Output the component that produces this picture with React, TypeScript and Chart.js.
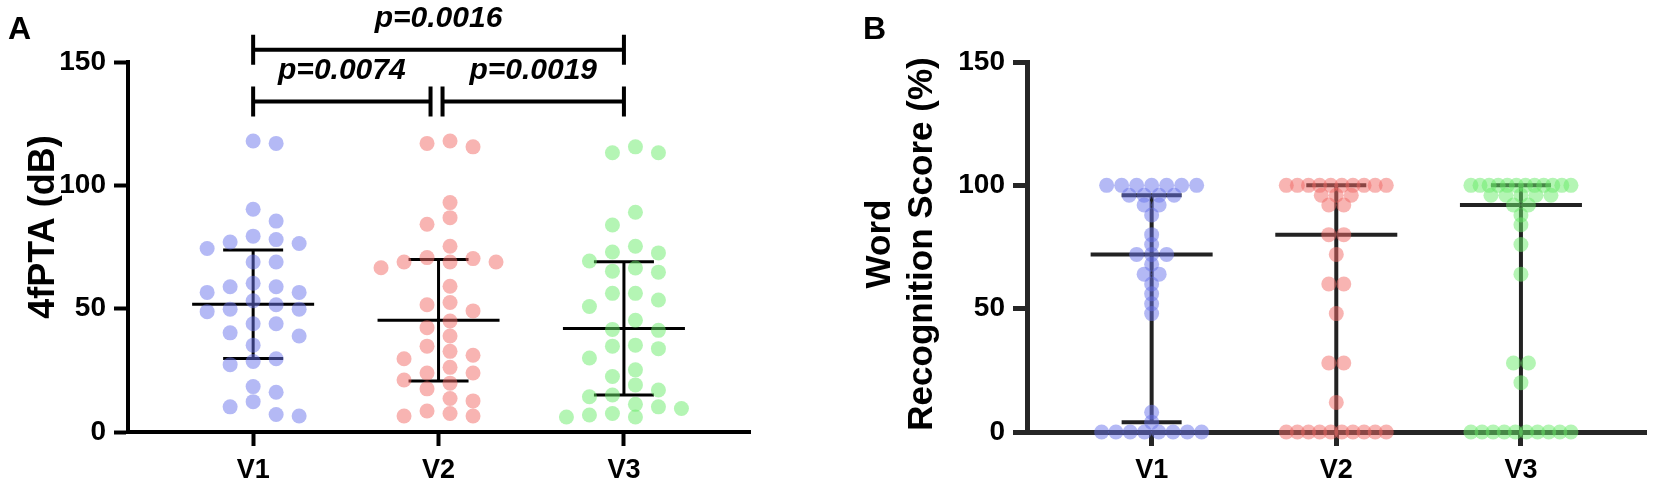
import React, { useEffect, useRef } from 'react';
import { Chart, registerables } from 'chart.js';

Chart.register(...registerables);
Chart.defaults.font.family = '"Liberation Sans", Arial, sans-serif';

// ---- data ----
const categories = ['V1', 'V2', 'V3'];
const yTicks = [0, 50, 100, 150];

// Panel A: 4fPTA (dB)
const ptaV1 = [118, 117, 90.3, 85.5, 79.4, 78, 77, 76.4, 74.4, 68.9, 68.9, 60.3, 58.9, 58.9, 56.6, 56.6, 53.2, 51.6, 49.8, 49.8, 48.8, 43.9, 43.9, 40.2, 38.9, 35.2, 29.7, 28.6, 27.3, 18.4, 16.1, 12.3, 10.2, 7.1, 6.5];
const ptaV2 = [118, 117, 115.6, 93, 86.9, 84.2, 75.3, 70.7, 70.3, 68.9, 68.9, 68.9, 66.6, 59.1, 52.5, 51.6, 49.1, 45, 42.3, 38.9, 34.8, 32.7, 31.1, 29.7, 26.2, 23.9, 23.9, 21.1, 19.8, 17.5, 13.6, 12.6, 8.5, 7.5, 6.5, 6.5];
const ptaV3 = [115.6, 113.2, 113.2, 89.1, 83.9, 75.3, 73.0, 72.6, 69.3, 66.5, 65.2, 64.8, 56.2, 56.2, 53.5, 50.9, 45.3, 41.6, 41.2, 35.2, 34.8, 33.8, 30.0, 25.2, 22.5, 19.1, 17.0, 15.0, 14.3, 11.2, 10.2, 9.5, 7.5, 6.9, 6.1, 6.1];
const ptaMean = [51.8, 45.3, 42.0];
const ptaSD = [22.0, 24.6, 27.0];

// significance brackets (category numbers are 1-based)
const bracketFrom = [1, 2, 1];
const bracketTo = [2, 3, 3];
const bracketLevel = [134, 134, 155];
const bracketText = ['p=0.0074', 'p=0.0019', 'p=0.0016'];

// Panel B: Word Recognition Score (%)
const wrsV1 = [0, 0, 0, 0, 0, 0, 0, 0, 4, 8, 48, 52, 56, 60, 64, 64, 68, 72, 72, 72, 76, 80, 88, 92, 92, 96, 96, 96, 96, 100, 100, 100, 100, 100, 100, 100];
const wrsV2 = [0, 0, 0, 0, 0, 0, 0, 0, 0, 0, 12, 28, 28, 48, 60, 60, 72, 80, 80, 92, 92, 96, 96, 96, 100, 100, 100, 100, 100, 100, 100, 100, 100, 100];
const wrsV3 = [0, 0, 0, 0, 0, 0, 0, 0, 0, 0, 20, 28, 28, 64, 76, 84, 88, 92, 92, 96, 96, 96, 96, 96, 100, 100, 100, 100, 100, 100, 100, 100, 100, 100, 100, 100];
const wrsMedian = [72, 80, 92];
const wrsQ1 = [4, 0, 0];
const wrsQ3 = [96, 100, 100];

const dotColors = ['rgba(105,115,235,0.5)', 'rgba(241,105,101,0.5)', 'rgba(105,235,105,0.5)'];

type Bars = { center: number[]; low: number[]; high: number[]; color: string; width: number };

const errorBarPlugin = {
  id: 'errorBars',
  beforeDatasetsDraw(chart: any, _args: any, opts: Bars) {
    if (!opts || !opts.center) return;
    const { ctx } = chart;
    const xs = chart.scales.x;
    const ys = chart.scales.y;
    ctx.save();
    ctx.strokeStyle = opts.color;
    ctx.lineWidth = opts.width;
    ctx.lineCap = 'butt';
    opts.center.forEach((c, i) => {
      const x = xs.getPixelForValue(i + 1);
      const yc = ys.getPixelForValue(c);
      const yl = ys.getPixelForValue(opts.low[i]);
      const yh = ys.getPixelForValue(opts.high[i]);
      ctx.beginPath();
      ctx.moveTo(x - 61, yc); ctx.lineTo(x + 61, yc);
      ctx.moveTo(x, yh); ctx.lineTo(x, yl);
      ctx.moveTo(x - 30, yh); ctx.lineTo(x + 30, yh);
      ctx.moveTo(x - 30, yl); ctx.lineTo(x + 30, yl);
      ctx.stroke();
    });
    ctx.restore();
  },
};

const bracketPlugin = {
  id: 'brackets',
  afterDraw(chart: any, _args: any, opts: { show: boolean }) {
    if (!opts || !opts.show) return;
    const { ctx } = chart;
    const xs = chart.scales.x;
    const ys = chart.scales.y;
    ctx.save();
    ctx.strokeStyle = '#000';
    ctx.fillStyle = '#000';
    ctx.lineWidth = 4;
    ctx.font = 'italic bold 30px "Liberation Sans", Arial, sans-serif';
    ctx.textAlign = 'center';
    ctx.textBaseline = 'middle';
    bracketLevel.forEach((lv, i) => {
      let x1 = xs.getPixelForValue(bracketFrom[i]);
      let x2 = xs.getPixelForValue(bracketTo[i]);
      // split the two adjacent brackets where they meet
      if (bracketTo[i] - bracketFrom[i] === 1) {
        if (bracketTo[i] === 2) x2 -= 8;
        if (bracketFrom[i] === 2) x1 += 4;
      }
      const y = ys.getPixelForValue(lv);
      ctx.beginPath();
      ctx.moveTo(x1, y); ctx.lineTo(x2, y);
      ctx.moveTo(x1, y - 15); ctx.lineTo(x1, y + 15);
      ctx.moveTo(x2, y - 15); ctx.lineTo(x2, y + 15);
      ctx.stroke();
      ctx.fillText(bracketText[i], (x1 + x2) / 2, y - 31);
    });
    ctx.restore();
  },
};

type TitleOpts = { lines: string[]; x: number; y: number; size: number; lineHeight: number; label: string; labelX: number };

// rotated y-axis title and the panel letter
const titlePlugin = {
  id: 'panelTitles',
  afterDraw(chart: any, _args: any, o: TitleOpts) {
    if (!o || !o.lines) return;
    const { ctx } = chart;
    ctx.save();
    ctx.fillStyle = '#000';
    ctx.font = 'bold 32px "Liberation Sans", Arial, sans-serif';
    ctx.textBaseline = 'alphabetic';
    ctx.textAlign = 'left';
    ctx.fillText(o.label, o.labelX, 39);
    ctx.translate(o.x, o.y);
    ctx.rotate(-Math.PI / 2);
    ctx.font = `bold ${o.size}px "Liberation Sans", Arial, sans-serif`;
    ctx.textAlign = 'center';
    ctx.textBaseline = 'middle';
    o.lines.forEach((t, i) => ctx.fillText(t, 0, i * o.lineHeight));
    ctx.restore();
  },
};

// scatter-dot layout on a column grid; tries a whole-step and a half-step grid
// and keeps the one with less overlap
function swarm(vals: number[], ys: any, minDist: number): number[] {
  const order = vals.map((_, i) => i).sort((a, b) => vals[b] - vals[a]);
  const grids = [
    [0, 1, -1, 2, -2],
    [0.5, -0.5, 1.5, -1.5, 2.5, -2.5],
  ];
  let best: number[] = [];
  let bestCost = Infinity;
  grids.forEach((tries) => {
    const cols: number[] = new Array(vals.length).fill(0);
    const placed: { c: number; y: number }[] = [];
    let cost = 0;
    order.forEach((i) => {
      const y = ys.getPixelForValue(vals[i]);
      let pick = tries[0];
      let pickGap = -1;
      for (const c of tries) {
        const gap = Math.min(Infinity, ...placed.filter((p) => p.c === c).map((p) => Math.abs(p.y - y)));
        if (gap >= minDist) { pick = c; pickGap = gap; break; }
        if (gap > pickGap) { pick = c; pickGap = gap; }
      }
      if (pickGap < minDist) cost += minDist - pickGap;
      cols[i] = pick;
      placed.push({ c: pick, y });
    });
    cost += tries.length * 0.5;
    if (cost < bestCost) { bestCost = cost; best = cols; }
  });
  return best;
}

// row layout for tied scores: same-value dots are centred side by side
function rows(vals: number[], ys: any, binPx: number, stepPx: number, maxRow: number): number[] {
  const bins = new Map<number, number[]>();
  vals.forEach((v, i) => {
    const b = Math.round(ys.getPixelForValue(v) / binPx);
    if (!bins.has(b)) bins.set(b, []);
    bins.get(b)!.push(i);
  });
  const offs: number[] = new Array(vals.length).fill(0);
  bins.forEach((idx) => {
    const step = idx.length > 1 ? Math.min(stepPx, maxRow / (idx.length - 1)) : 0;
    idx.forEach((i, k) => {
      offs[i] = (k - (idx.length - 1) / 2) * step;
    });
  });
  return offs;
}

function spreadDots(chart: any, groups: number[][], p: PanelProps) {
  const xs = chart.scales.x;
  const ys = chart.scales.y;
  const unit = xs.getPixelForValue(1) - xs.getPixelForValue(0);
  groups.forEach((vals, gi) => {
    const offs = p.mode === 'swarm'
      ? swarm(vals, ys, p.spacing).map((c) => c * p.stepPx)
      : rows(vals, ys, p.spacing, p.stepPx, p.maxRow);
    chart.data.datasets[gi].data = vals.map((v, i) => ({ x: gi + 1 + offs[i] / unit, y: v }));
  });
  chart.update('none');
}

interface PanelProps {
  groups: number[][];
  width: number;
  plotLeft: number;
  plotRight: number;
  axisColor: string;
  axisWidth: number;
  bars: Bars;
  brackets: boolean;
  titles: TitleOpts;
  mode: 'swarm' | 'rows';
  stepPx: number;
  spacing: number;
  maxRow: number;
}

const Panel: React.FC<PanelProps> = (p) => {
  const ref = useRef<HTMLCanvasElement | null>(null);

  useEffect(() => {
    if (!ref.current) return;
    const ctx = ref.current.getContext('2d');
    if (!ctx) return;
    const H = 487;
    const axisGrid = {
      display: true,
      drawOnChartArea: false,
      drawTicks: true,
      tickLength: 14,
      tickWidth: p.axisWidth,
      tickColor: p.axisColor,
      color: p.axisColor,
    };
    const chart = new Chart(ctx, {
      type: 'scatter',
      data: {
        datasets: p.groups.map((vals, gi) => ({
          label: categories[gi],
          data: vals.map((v) => ({ x: gi + 1, y: v })),
          backgroundColor: dotColors[gi],
          borderWidth: 0,
          pointRadius: 7.5,
          pointHoverRadius: 7.5,
          clip: false as any,
        })),
      },
      options: {
        responsive: false,
        animation: false,
        events: [],
        layout: { padding: { left: 0, top: 62, right: p.width - p.plotRight, bottom: 0 } },
        plugins: {
          legend: { display: false },
          tooltip: { enabled: false },
          errorBars: p.bars,
          brackets: { show: p.brackets },
          panelTitles: p.titles,
        } as any,
        scales: {
          x: {
            type: 'linear',
            min: 0.325,
            max: 3.68,
            afterBuildTicks: (s: any) => {
              s.ticks = categories.map((_, i) => ({ value: i + 1 }));
            },
            afterFit: (s: any) => {
              s.height = H - 432;
            },
            ticks: {
              autoSkip: false,
              maxRotation: 0,
              color: '#000',
              padding: 8,
              font: { size: 27, weight: 'bold' },
              callback: (v: any) => categories[Number(v) - 1],
            },
            grid: axisGrid,
            border: { display: true, color: p.axisColor, width: p.axisWidth },
          },
          y: {
            min: 0,
            max: 150,
            afterBuildTicks: (s: any) => {
              s.ticks = yTicks.map((v) => ({ value: v }));
            },
            afterFit: (s: any) => {
              s.width = p.plotLeft;
            },
            ticks: {
              color: '#000',
              padding: 8,
              font: { size: 28, weight: 'bold' },
            },
            grid: axisGrid,
            border: { display: true, color: p.axisColor, width: p.axisWidth },
          },
        },
      },
      plugins: [errorBarPlugin, bracketPlugin, titlePlugin],
    });

    spreadDots(chart, p.groups, p);

    return () => {
      chart.destroy();
    };
  }, [p]);

  return <canvas ref={ref} width={p.width} height={487} style={{ width: p.width, height: 487, display: 'block' }} />;
};

const panelA: PanelProps = {
  groups: [ptaV1, ptaV2, ptaV3],
  width: 820,
  plotLeft: 128,
  plotRight: 750,
  axisColor: '#000',
  axisWidth: 4,
  bars: {
    center: ptaMean,
    low: ptaMean.map((m, i) => m - ptaSD[i]),
    high: ptaMean.map((m, i) => m + ptaSD[i]),
    color: '#000',
    width: 3,
  },
  brackets: true,
  titles: { lines: ['4fPTA (dB)'], x: 44, y: 227, size: 36, lineHeight: 43, label: 'A', labelX: 8 },
  mode: 'swarm',
  stepPx: 23,
  spacing: 15,
  maxRow: 0,
};

const panelB: PanelProps = {
  groups: [wrsV1, wrsV2, wrsV3],
  width: 824,
  plotLeft: 197,
  plotRight: 818,
  axisColor: '#262626',
  axisWidth: 5,
  bars: { center: wrsMedian, low: wrsQ1, high: wrsQ3, color: '#222', width: 4 },
  brackets: false,
  titles: { lines: ['Word', 'Recognition Score (%)'], x: 50, y: 244, size: 35, lineHeight: 42, label: 'B', labelX: 33 },
  mode: 'rows',
  stepPx: 15,
  spacing: 8,
  maxRow: 100,
};

export default function App() {
  return (
    <div style={{ position: 'fixed', left: 0, top: 0, width: 1654, height: 487, background: '#fff' }}>
      <div style={{ position: 'absolute', left: 0, top: 0 }}>
        <Panel {...panelA} />
      </div>
      <div style={{ position: 'absolute', left: 830, top: 0 }}>
        <Panel {...panelB} />
      </div>
    </div>
  );
}
